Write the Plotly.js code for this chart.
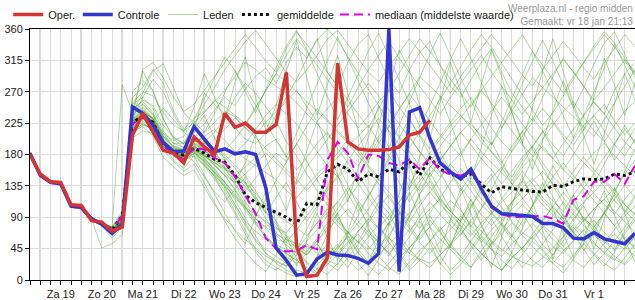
<!DOCTYPE html>
<html><head><meta charset="utf-8">
<script src="https://cdn.plot.ly/plotly-3.0.1.min.js"></script>
<style>html,body{margin:0;padding:0;background:#fff}#chart{width:635px;height:300px}</style>
</head><body><div id="chart"></div>
<script>
// time axis: 6-hourly steps starting Fri 18 Jan 2019 18:00
const startUTC = Date.UTC(2019, 0, 18, 18);
const stepMs = 6 * 3600 * 1000;
const nSteps = 60;
const dayLabels = ['Za 19','Zo 20','Ma 21','Di 22','Wo 23','Do 24','Vr 25','Za 26','Zo 27','Ma 28','Di 29','Wo 30','Do 31','Vr 1'];
const labelDates = ['2019-01-19','2019-01-20','2019-01-21','2019-01-22','2019-01-23','2019-01-24','2019-01-25','2019-01-26','2019-01-27','2019-01-28','2019-01-29','2019-01-30','2019-01-31','2019-02-01'];
const midnightDates = labelDates.concat(['2019-02-02']);
const yTicks = [0,45,90,135,180,225,270,315,360];

const oper = [180,152,141,140,108,107,85,83,70,76, 208,239,212,186,182,168,205,191,180,239,
  219,225,212,212,223,298,48,5,7,32, 311,198,188,186,186,187,191,208,212,229];
const controle = [182,150,140,138,106,104,88,80,67,80, 248,239,222,197,184,185,220,202,184,188,
  181,184,180,132,46,28,7,9,30,40, 36,35,31,24,38,360,12,241,247,203,
  168,155,145,159,131,106,95,94,93,91, 81,81,75,60,59,68,59,55,52,67];
const gemiddelde = [180,151,140,138,107,104,86,81,72,92, 226,235,226,194,182,179,189,182,173,169,
  150,122,111,104,97,90,80,110,108,155, 166,159,141,152,148,159,155,171,150,175,
  159,152,148,152,138,125,134,131,129,127, 126,136,134,141,145,144,145,152,150,155];
const mediaan = [180,151,140,138,107,104,86,81,72,92, 224,233,224,192,181,173,190,187,175,168,
  148,122,95,60,45,41,42,50,44,172, 198,182,145,180,178,168,164,173,159,175,
  157,152,150,155,134,104,95,90,91,91, 92,88,81,115,120,141,141,152,138,164];

const leden = [
 [181,152,141,139,107,105,87,81,70,84,228,238,224,197,184,178,190,180,166,150,128,104,82,60,44,33,24,38,52,30,48,70,44,26,58,82,60,38,66,92,70,46,88,110,78,54,40,64,96,72,50,36,62,88,106,78,56,42,70,90],
 [180,150,140,140,108,106,88,82,72,90,240,246,231,201,186,181,196,186,176,166,152,138,118,98,80,62,46,36,52,28,22,44,70,86,112,96,68,92,124,142,112,88,72,102,134,152,118,94,78,108,132,164,138,110,88,70,98,122,100,84],
 [183,153,143,139,109,107,89,83,75,95,252,262,246,214,196,190,212,224,244,262,250,274,292,304,282,312,334,318,346,298,278,312,338,352,318,288,268,302,326,342,308,278,262,288,312,332,298,268,248,228,262,292,318,298,278,254,238,272,296,312],
 [181,151,140,137,105,103,85,79,66,78,214,224,216,191,178,171,182,166,148,128,104,78,58,44,34,24,14,10,22,36,52,28,14,26,46,62,38,18,36,56,76,52,34,18,42,62,82,64,44,28,18,36,56,76,58,38,24,14,32,52],
 [182,150,139,136,104,102,86,78,60,76,230,232,219,192,182,176,186,178,168,158,150,162,176,192,202,178,158,176,196,212,188,168,148,176,202,222,204,184,164,148,172,192,212,194,174,158,138,156,176,192,168,148,134,156,176,158,144,128,152,172],
 [180,152,141,141,107,105,87,82,73,88,270,286,272,232,202,190,206,198,212,232,262,282,268,248,228,198,178,152,128,108,88,68,54,82,104,122,98,78,58,76,96,114,100,78,64,48,72,92,108,94,78,66,48,72,90,74,58,44,66,86],
 [183,151,142,138,106,104,87,80,68,80,220,230,224,195,180,174,180,164,144,124,98,70,44,28,18,10,4,14,32,52,34,18,42,62,80,54,34,14,28,46,24,8,22,42,62,44,28,16,36,56,42,24,10,30,52,36,20,40,62,44],
 [181,150,141,140,108,106,88,81,70,85,234,242,228,198,186,182,200,196,190,180,164,150,128,104,84,64,50,40,60,82,102,126,152,128,104,86,112,136,162,146,118,98,84,106,126,146,162,138,118,98,84,106,126,108,88,76,96,116,136,118],
 [182,151,140,139,106,104,86,81,71,83,226,236,226,200,188,183,196,190,202,216,232,218,208,226,242,256,272,248,228,246,262,238,218,236,256,272,248,228,208,188,206,226,246,262,238,218,198,184,206,226,246,228,208,194,216,236,252,228,208,226],
 [180,149,139,137,105,104,87,46,52,65,210,222,218,194,182,178,184,172,154,134,108,84,70,58,50,44,40,56,72,92,112,132,114,94,74,92,112,132,152,134,114,98,122,142,124,104,88,112,132,146,128,114,98,122,142,124,108,94,116,132],
 [182,152,141,138,107,105,88,82,74,92,246,256,240,210,190,184,198,206,216,200,184,174,164,154,144,128,118,136,152,166,182,202,184,164,148,172,192,206,184,164,148,166,182,202,184,168,154,138,162,176,192,174,158,144,166,182,196,178,164,148],
 [181,151,141,139,106,104,86,80,69,80,222,232,224,196,184,178,190,180,164,150,130,108,88,74,58,54,72,92,112,94,78,64,82,102,122,104,84,68,92,112,94,78,64,86,102,122,104,84,68,58,76,92,112,94,78,64,54,72,92,106],
 [182,150,140,138,106,103,86,81,72,86,232,240,232,206,196,196,222,252,276,302,322,342,358,338,318,298,284,302,322,346,358,338,318,298,284,306,326,346,328,308,288,268,292,312,332,352,334,314,294,278,302,322,342,324,304,288,312,332,352,334],
 [180,151,141,140,107,105,88,82,71,84,228,236,226,198,185,180,188,174,160,140,114,88,64,38,24,14,8,4,16,32,46,62,38,24,36,52,66,44,28,18,36,52,72,54,38,24,14,32,46,62,44,28,18,36,52,66,48,34,24,42],
 [183,152,142,139,108,106,89,83,76,100,262,276,302,282,242,216,232,242,256,272,292,312,302,288,278,268,254,238,224,208,194,178,164,186,206,226,246,266,248,228,208,194,178,202,222,242,262,244,224,204,188,174,196,216,236,256,238,218,198,184],
 [181,150,140,137,106,104,86,79,65,75,204,214,210,188,178,172,178,164,150,134,120,104,94,84,74,68,86,102,116,132,146,162,138,118,98,78,102,122,142,162,176,154,134,114,94,78,96,112,126,142,156,138,118,98,84,102,116,132,108,94],
 [182,151,140,138,107,105,87,81,70,82,236,252,236,204,190,186,200,196,188,176,160,140,114,88,68,54,44,62,82,102,84,68,54,44,62,82,96,74,54,38,56,72,92,74,58,44,34,52,66,82,64,48,38,56,72,86,68,54,44,62],
 [181,152,142,140,108,105,87,81,70,84,230,244,230,200,187,182,192,184,178,172,182,196,216,236,252,238,224,204,184,164,148,172,192,212,232,214,194,174,158,182,202,222,236,218,198,184,168,192,212,232,214,194,178,202,222,236,214,194,178,202],
 [180,150,141,139,106,104,86,80,68,79,218,228,220,194,182,176,184,170,152,132,108,82,56,38,28,20,36,52,38,24,14,32,52,72,54,38,24,46,66,86,68,48,34,56,76,96,78,58,44,66,86,106,88,68,54,76,96,78,58,48],
 [182,151,140,138,107,105,88,82,73,87,238,248,232,202,188,184,194,188,180,186,202,222,246,272,296,322,346,328,308,288,268,248,276,302,322,342,318,298,278,258,238,262,282,302,322,298,278,258,238,256,276,296,316,298,278,258,276,296,316,298],
 [181,151,141,138,106,104,87,81,70,81,224,233,222,195,183,177,186,178,168,160,150,140,124,108,94,84,74,64,82,96,112,94,78,64,48,66,82,96,112,126,108,94,78,64,82,96,112,126,142,124,108,94,78,96,112,126,142,124,108,94],
 [182,152,141,140,107,106,88,82,72,86,242,252,238,206,192,188,206,212,226,242,234,218,204,188,174,158,144,128,146,162,176,192,206,222,198,178,158,144,128,152,172,192,212,226,204,184,164,148,172,192,212,226,204,184,168,154,176,196,216,198],
 [180,150,139,137,105,103,85,79,64,77,212,224,216,192,180,174,182,170,154,140,124,104,84,64,48,38,28,18,8,22,36,52,66,48,34,18,8,26,42,56,72,86,68,54,38,24,14,32,46,62,76,58,44,28,18,36,52,66,48,34],
 [182,151,141,139,107,105,87,81,71,85,230,238,228,200,186,182,192,182,172,162,150,134,116,96,76,58,46,36,56,76,96,116,136,156,138,118,98,84,106,126,146,166,148,128,108,94,116,136,156,138,118,104,88,112,132,152,134,114,98,122],
 [181,150,140,138,106,104,86,80,69,82,226,234,224,197,184,179,188,178,164,150,140,152,166,182,168,154,138,162,182,202,222,242,262,282,264,244,224,204,184,168,192,212,232,252,272,254,234,214,194,178,202,222,242,256,234,214,198,222,242,256],
 [183,152,142,140,108,106,89,83,75,280,240,302,312,290,262,242,252,272,292,312,332,352,334,314,298,332,356,338,318,298,278,258,238,218,246,272,296,322,346,328,308,288,268,248,272,292,312,332,352,328,308,288,268,292,312,332,352,334,314,294],
 [181,151,140,138,107,104,86,80,70,80,220,231,222,195,183,177,185,174,158,140,122,100,80,62,48,38,28,42,56,72,86,102,84,68,54,38,56,72,86,102,116,98,84,68,54,72,86,102,116,132,114,98,84,68,86,102,116,98,84,68],
 [182,151,141,139,106,104,87,81,70,83,228,237,227,199,186,181,191,182,170,154,138,118,98,82,64,50,38,26,16,8,24,42,56,38,24,14,32,46,62,76,58,44,28,18,36,52,66,82,64,48,34,24,42,56,72,54,38,28,46,62],
 [181,151,141,138,107,105,87,81,71,84,236,300,270,230,205,195,215,268,252,238,218,202,196,210,236,262,288,318,344,360,344,320,296,272,250,228,206,190,212,236,260,284,306,330,352,334,310,288,266,244,222,240,264,288,312,336,356,340,318,296],
 [182,151,140,139,106,105,86,80,69,83,224,234,228,246,230,212,200,186,172,160,142,128,146,164,182,170,196,222,246,230,212,196,178,162,144,126,108,90,74,96,118,140,160,138,116,98,80,62,84,106,128,148,168,150,132,114,96,78,96,118],
 [181,151,141,139,107,105,88,82,72,86,232,262,288,270,238,212,248,296,262,230,284,320,262,214,250,300,344,290,236,280,322,268,214,168,220,276,330,302,250,204,256,312,270,226,280,330,292,240,196,248,300,346,298,252,214,262,318,280,236,284],
 [182,150,140,138,106,104,86,80,68,82,226,234,222,194,172,160,178,150,124,96,70,52,90,128,84,46,20,56,96,62,28,70,112,74,36,80,124,166,118,76,40,86,132,96,54,18,62,106,150,112,70,30,78,122,84,44,88,132,96,56],
 [180,151,141,140,108,106,88,82,73,89,244,258,250,222,204,196,216,236,204,172,140,168,208,176,132,100,142,186,228,190,150,112,160,204,250,212,170,130,176,222,264,226,184,144,190,236,278,240,198,158,200,244,286,248,206,166,210,254,296,258],
 [183,152,142,139,107,105,87,81,70,84,218,226,214,186,170,156,166,138,110,84,60,40,24,12,36,62,30,8,34,64,96,58,24,6,30,60,92,126,90,54,22,50,84,116,80,46,14,40,74,108,140,102,66,32,60,96,128,92,58,26],
 [181,151,140,138,106,104,86,80,69,82,230,240,232,210,200,206,230,260,292,320,300,270,240,274,306,336,358,330,296,262,230,262,296,328,354,320,286,252,220,250,284,316,346,318,284,250,218,248,282,314,344,314,280,246,276,310,340,356,324,290],
 [182,152,141,139,107,105,88,82,72,85,236,244,230,200,186,180,170,148,126,112,130,148,120,96,118,140,112,84,106,128,150,124,98,120,144,168,140,112,136,160,184,156,128,150,174,198,170,142,166,190,214,186,158,180,204,228,200,172,194,218],
 [180,150,140,137,105,103,86,79,67,78,214,220,206,176,162,150,158,134,108,88,72,58,46,34,26,20,44,72,102,134,166,136,106,80,56,34,60,90,122,154,128,100,74,50,28,52,80,110,142,174,146,118,92,66,42,66,94,124,156,188],
 [181,151,141,140,108,106,88,82,71,86,240,268,300,310,276,240,226,212,238,268,300,276,250,224,200,176,210,246,282,316,348,318,286,254,222,190,222,256,290,324,354,322,290,258,226,194,226,260,294,328,300,268,236,204,236,270,304,338,308,276],
 [182,151,140,138,107,104,87,81,70,83,224,236,226,198,188,186,198,204,186,160,136,112,92,116,142,168,196,170,144,118,92,66,92,120,148,176,204,232,206,180,154,128,102,76,102,130,158,186,214,188,162,136,110,84,110,138,166,194,222,196],
 [181,150,141,139,106,105,87,80,70,84,226,236,228,204,192,186,194,176,156,136,118,102,88,76,66,58,52,48,44,42,40,54,70,88,74,60,48,38,30,24,36,50,66,84,70,56,44,34,26,20,32,46,62,80,66,52,40,30,22,36],
 [183,152,142,140,108,106,89,83,76,96,254,270,264,240,222,214,226,240,258,248,236,224,248,272,296,284,270,256,242,228,214,200,186,172,196,220,244,268,292,278,264,250,236,222,208,194,218,242,266,290,276,262,248,234,220,206,230,254,278,302],
 [180,151,141,139,107,105,87,81,71,83,228,234,222,194,182,176,184,168,148,122,94,66,40,22,14,28,46,24,10,26,44,64,40,20,8,24,42,62,84,58,34,14,28,46,66,88,62,38,18,34,52,72,94,68,44,22,38,56,76,98]
];

function fmt(ms){ return new Date(ms).toISOString().slice(0,16).replace('T',' '); }
const times = [];
for (let k = 0; k < nSteps; k++) times.push(fmt(startUTC + k*stepMs));
const tickVals = times.slice();
const tickText = tickVals.map(t => {
  const i = labelDates.indexOf(t.slice(0,10));
  return (t.slice(11,13) === '12' && i >= 0) ? dayLabels[i] : '';
});

const traces = [];
leden.forEach((m, i) => {
  traces.push({x: times.slice(0, m.length), y: m, type: 'scatter', mode: 'lines',
    name: 'Leden', legendgroup: 'leden', showlegend: i === 0, legend: 'legend3',
    line: {color: 'rgba(60,155,25,0.4)', width: 1}});
});
traces.push({x: times, y: gemiddelde, type:'scatter', mode:'lines', name:'gemiddelde', legend:'legend4',
  line:{color:'#111', width:3, dash:'dot'}});
traces.push({x: times, y: mediaan, type:'scatter', mode:'lines', name:'mediaan (middelste waarde)', legend:'legend5',
  line:{color:'#dd00ee', width:2, dash:'9px,5px'}});
traces.push({x: times, y: controle, type:'scatter', mode:'lines', name:'Controle', legend:'legend2',
  line:{color:'#3434d0', width:3.5}});
traces.push({x: times.slice(0, oper.length), y: oper, type:'scatter', mode:'lines', name:'Oper.', legend:'legend',
  line:{color:'#d43434', width:3.5}});

const shapes = midnightDates.map(d => ({type:'line', xref:'x', yref:'paper', x0:d, x1:d, y0:0, y1:1,
  layer:'below', line:{color:'#555', width:1}}));

const fam = '"Liberation Sans", Arial, sans-serif';
const font = {family: fam, size:11, color:'#222'};
function leg(x){ return {orientation:'h', x:x, xanchor:'left', y:1, yanchor:'bottom', font:{family:fam, size:11, color:'#222'},
  bgcolor:'rgba(0,0,0,0)', itemwidth:30}; }
const layout = {
  width: 635, height: 300,
  margin: {l:30, r:0, t:20, b:20, pad:0},
  paper_bgcolor:'#fff', plot_bgcolor:'#fff',
  font: font,
  showlegend: true,
  legend: leg(-0.036), legend2: leg(0.079), legend3: leg(0.220), legend4: leg(0.342), legend5: leg(0.504),
  xaxis: {type:'date', range:[times[0], times[nSteps-1]], tickmode:'array', tickvals: tickVals, ticktext: tickText,
    ticks:'outside', ticklen:4, tickcolor:'#000', showline:true, linecolor:'#000', linewidth:1, mirror:true,
    showgrid:true, gridcolor:'#dcdcdc', gridwidth:1, zeroline:false, tickfont:{family:fam, size:11, color:'#222'}},
  yaxis: {range:[0,360], tickmode:'array', tickvals: yTicks, ticks:'outside', ticklen:4, tickcolor:'#000',
    showline:true, linecolor:'#000', linewidth:1, showgrid:true, gridcolor:'#dcdcdc', zeroline:false,
    tickfont:{family:fam, size:11, color:'#222'}},
  shapes: shapes,
  annotations: [{xref:'paper', yref:'paper', x:1, y:1, xanchor:'right', yanchor:'bottom', align:'right', showarrow:false,
    text:'Weerplaza.nl - regio midden<br>Gemaakt: vr 18 jan 21:13', font:{family:fam, size:10, color:'#999'}}]
};
Plotly.newPlot('chart', traces, layout, {displayModeBar:false, staticPlot:true});
</script></body></html>
